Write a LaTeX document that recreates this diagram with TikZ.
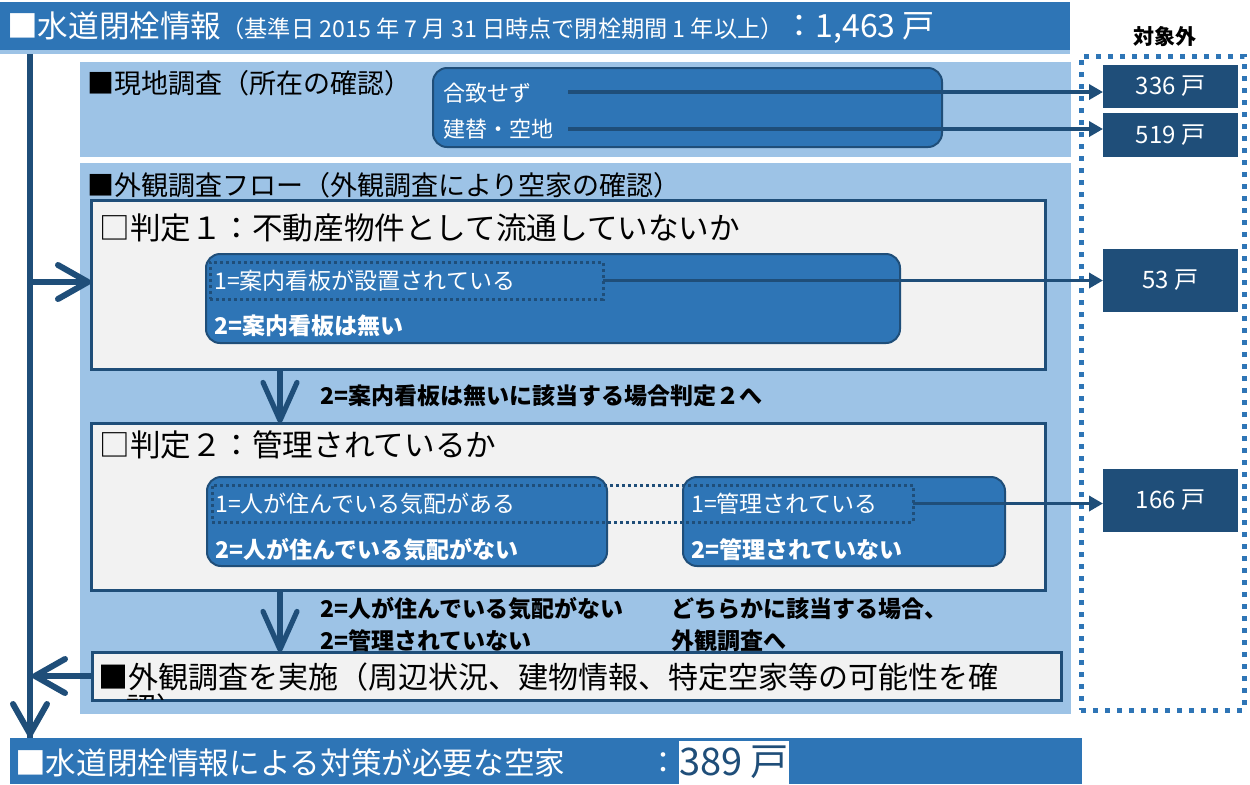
\documentclass[tikz,border=0pt]{standalone}
\usepackage{fontspec}
\setmainfont{Noto Sans CJK JP}
\usetikzlibrary{arrows.meta,fit,calc}
\definecolor{mblue}{RGB}{46,117,182}
\definecolor{lblue}{RGB}{157,195,230}
\definecolor{navy}{RGB}{31,78,121}
\definecolor{lgray}{RGB}{242,242,242}
\newcommand{\fs}[1]{\fontsize{#1}{#1}\selectfont}
\begin{document}
\begin{tikzpicture}[x=0.5pt,y=-0.5pt,
  area/.style={fit={#1},inner sep=0pt,outer sep=0pt},
  sect/.style={fill=lblue,draw=none},
  judge/.style={fill=lgray,draw=navy,line width=1.5pt},
  rbox/.style={fill=mblue,draw=navy,line width=1pt,rounded corners=7pt},
  numbox/.style={fill=navy,draw=none},
  dotrect/.style={draw=navy,line width=1.5pt,dash pattern=on 1.5pt off 1.5pt},
  lbl/.style={anchor=west,inner sep=0pt},
  wtxt/.style={lbl,text=white,font=\fs{11.5}},
  btxt/.style={lbl,text=white,font=\bfseries\fs{11.5}},
  ktxt/.style={lbl,text=black,font=\bfseries\fs{11.5}},
  conn/.style={draw=navy,line width=1.75pt,-{Triangle[length=7pt,width=7.5pt]}},
  barb/.style={draw=navy,line width=3pt,-{Straight Barb[length=15pt,width=17pt,round]}},
  barbd/.style={draw=navy,line width=2.6pt,-{Straight Barb[length=19pt,width=17pt,round]}}
]
\useasboundingbox (0,0) rectangle (1250,784);

% top banner
\node[area={(0,50) (1070,54)},fill=lblue] (strip) {};
\node[area={(0,2) (1070,50)},fill=mblue] (top) {};
\node[lbl,text=white] (title) at (7,28) {{\fs{15.3}■水道閉栓情報}{\fs{11.6}（基準日 2015 年 7 月 31 日時点で閉栓期間 1 年以上）}{\fs{16}：1,463 戸}};
\node[inner sep=0pt,font=\bfseries\fs{10.5}] (excl) at (1165,37) {対象外};

% outside dotted frame
\node[area={(1081,56) (1244,710)},draw=mblue,line width=2.5pt,dash pattern=on 2.5pt off 3.5pt] (outside) {};

% section 1
\node[area={(80,62) (1071,157)},sect] (sec1) {};
\node[lbl,font=\fs{13.5}] (sec1t) at (87,83) {■現地調査（所在の確認）};
\node[area={(433,68) (942,147)},rbox] (rb1) {};
\node[wtxt,font=\fs{11}] (t1a) at (443,93) {合致せず};
\node[wtxt,font=\fs{11}] (t1b) at (443,129) {建替・空地};
\node[area={(1103,65) (1238,108)},numbox] (n336) {};
\node[text=white,font=\fs{12},inner sep=0pt] at (n336.center) {336 戸};
\node[area={(1103,113) (1238,157)},numbox] (n519) {};
\node[text=white,font=\fs{12},inner sep=0pt] at (n519.center) {519 戸};
\coordinate (c1) at (568,92);
\coordinate (c2) at (568,129);
\draw[conn] (c1) -- (c1 -| n336.west);
\draw[conn] (c2) -- (c2 -| n519.west);

% section 2
\node[area={(80,163) (1071,714)},sect] (sec2) {};
\node[lbl,font=\fs{13.5}] (sec2t) at (87,185) {■外観調査フロー（外観調査により空家の確認）};

% judge 1
\node[area={(91,200) (1045,369)},judge] (j1) {};
\node[lbl,font=\fs{15.3}] (j1t) at (99,228) {□判定１：不動産物件として流通していないか};
\node[area={(206,254) (900,343)},rbox] (rb2) {};
\node[area={(210,262) (603,299)},dotrect] (d1) {};
\node[wtxt] (t2a) at (214,281) {1=案内看板が設置されている};
\node[btxt] (t2b) at (214,326) {2=案内看板は無い};
\node[area={(1103,249) (1238,312)},numbox] (n53) {};
\node[text=white,font=\fs{12},inner sep=0pt] at (n53.center) {53 戸};
\draw[conn] (d1.east) -- (d1.east -| n53.west);

% judge 2
\node[area={(91,423) (1045,590)},judge] (j2) {};
\node[lbl,font=\fs{15.3}] (j2t) at (99,445) {□判定２：管理されているか};
\node[area={(207,477) (607,566)},rbox] (rb3) {};
\node[area={(683,477) (1005,566)},rbox] (rb4) {};
\node[area={(212,485) (913,522)},dotrect] (d2) {};
\node[wtxt] (t3a) at (215,504) {1=人が住んでいる気配がある};
\node[btxt] (t3b) at (215,550) {2=人が住んでいる気配がない};
\node[wtxt] (t4a) at (691,504) {1=管理されている};
\node[btxt] (t4b) at (691,550) {2=管理されていない};
\node[area={(1103,469) (1238,532)},numbox] (n166) {};
\node[text=white,font=\fs{12},inner sep=0pt] at (n166.center) {166 戸};
\draw[conn] (d2.east) -- (d2.east -| n166.west);

% exam box
\node[area={(92,652) (1061,700)},judge] (exam) {};
\begin{scope}
\clip (93,653) rectangle (1060,699);
\node[lbl,font=\fs{15}] (ex1) at (98,677) {■外観調査を実施（周辺状況、建物情報、特定空家等の可能性を確};
\node[lbl,font=\fs{15}] (ex2) at (126,708) {認）};
\end{scope}

% down arrows and labels
\coordinate (xa) at (280,0);
\draw[barbd] (j1.south -| xa) -- (j2.north -| xa);
\node[ktxt] (l1) at (320,396) {2=案内看板は無いに該当する場合判定２へ};
\draw[barbd] (j2.south -| xa) -- (exam.north -| xa);
\node[ktxt] (l2) at (320,609) {2=人が住んでいる気配がない};
\node[ktxt] (l3) at (320,641) {2=管理されていない};
\node[ktxt] (l4) at (671,609) {どちらかに該当する場合、};
\node[ktxt] (l5) at (671,641) {外観調査へ};

% bottom banner
\node[area={(10,738) (1082,784)},fill=mblue] (bot) {};
\node[lbl,text=white,font=\fs{15.3}] (bott) at (15,763) {■水道閉栓情報による対策が必要な空家};
\node[lbl,text=white,font=\fs{15}] (colon) at (648,763) {：};
\node[area={(679,741) (789,784)},fill=white] (res) {};
\node[text=navy,font=\fs{19},inner sep=0pt] at (res.center) {389 戸};

% main flow line
\coordinate (mtop) at (30,54);
\coordinate (ra) at (30,282);
\draw[navy,line width=3pt] (mtop) -- (mtop |- bot.north);
\draw[barb] (mtop) -- ($(mtop |- bot.north)+(0,-1)$);
\draw[barb] (ra) -- (ra -| j1.west);
\draw[barb] (exam.west) -- ($(exam.west -| mtop)+(2,0)$);
\end{tikzpicture}
\end{document}
